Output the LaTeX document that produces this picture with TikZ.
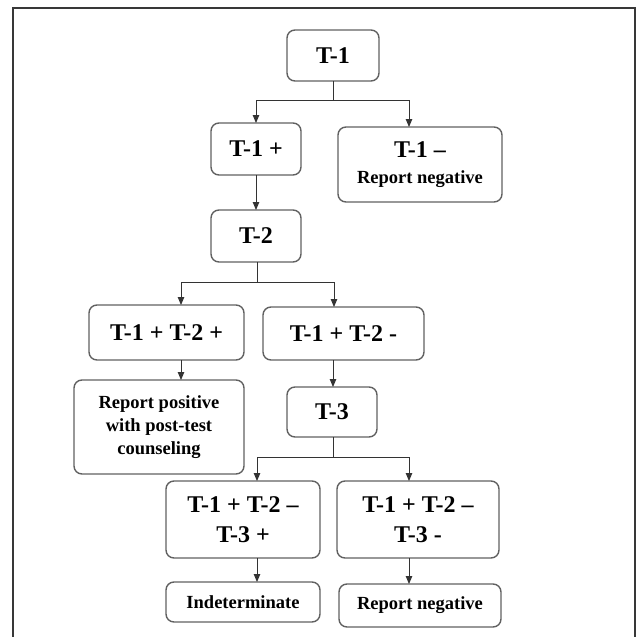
\documentclass[tikz,border=0pt]{standalone}
\usepackage{fontspec}
\setmainfont{Liberation Serif}
\usepackage{tikz}
\usetikzlibrary{arrows.meta,positioning}
\tikzset{
    box color/.style={black!62},
    line color/.style={black!80},
    frame/.style={line width=1.8pt,black!78},
    box/.style={draw,box color,line width=1.4pt,rounded corners=8pt,text=black,align=center,inner sep=0pt,outer sep=0pt},
    big text/.style={font=\fontsize{24}{30}\selectfont\bfseries},
    small text/.style={font=\fontsize{18.5}{23}\selectfont\bfseries},
    test box/.style={box,big text,minimum width=#1},
    test box/.default=90pt,
    line/.style={line color,line width=0.9pt},
    arr/.style={line,-{Triangle[length=8pt,width=6.5pt]}},
}
\tikzstyle{every node}=[font=\bfseries]

\begin{document}
\begin{tikzpicture}[x=1pt,y=-1pt]
        \useasboundingbox (0,0) rectangle (637,637);
        \draw[frame] (13,637) -- (13,8) -- (635,8) -- (635,637);

        \node[test box=92pt,minimum height=51pt] (t1) at (333,55.5) {T-1};
        \node[test box,minimum height=52pt] (t1p) at (256,149) {T-1 +};
        \node[box,font=\fontsize{24}{26}\selectfont\bfseries,minimum width=164pt,minimum height=75pt] (t1m) at (420,164.5)
            {T-1 --\\{\fontsize{18.5}{26}\selectfont Report negative}};
        \node[test box,minimum height=52pt] (t2) at (256,236) {T-2};
        \node[test box=155pt,minimum height=55pt] (t12p) at (166.5,332.5) {T-1 + T-2 +};
        \node[test box=161pt,minimum height=53pt] (t12m) at (343.5,333.5) {T-1 + T-2 -};
        \node[box,small text,minimum width=170pt,minimum height=94pt] (rpos) at (159,427)
            {Report positive\\with post-test\\counseling};
        \node[test box,minimum height=50pt] (t3) at (332,412) {T-3};
        \node[test box=154pt,minimum height=77pt] (t123p) at (243,519.5) {T-1 + T-2 --\\T-3 +};
        \node[test box=162pt,minimum height=77pt] (t123m) at (418,519.5) {T-1 + T-2 --\\T-3 -};
        \node[box,small text,minimum width=154pt,minimum height=40pt] (indet) at (243,602) {Indeterminate};
        \node[box,small text,minimum width=162pt,minimum height=43pt] (rneg) at (420,605.5) {Report negative};

        \coordinate (j1) at (333,100);
        \coordinate (j1r) at (409,100);
        \coordinate (j2) at (257,282);
        \coordinate (j2l) at (181,282);
        \coordinate (j2r) at (334,282);
        \coordinate (j3) at (333,457);
        \coordinate (j3l) at (257,457);
        \coordinate (j3r) at (409,457);

        \draw[line] (t1.south) -- (j1);
        \draw[arr] (j1) -| (t1p.north);
        \draw[arr] (j1) -| (t1m.north -| j1r);
        \draw[arr] (t1p) -- (t2);

        \draw[line] (t2.south -| j2) -- (j2);
        \draw[arr] (j2) -| (t12p.north -| j2l);
        \draw[arr] (j2) -| (t12m.north -| j2r);
        \draw[arr] (t12p.south -| j2l) -- (rpos.north -| j2l);
        \draw[arr] (t12m.south -| j3) -- (t3.north -| j3);

        \draw[line] (t3.south -| j3) -- (j3);
        \draw[arr] (j3) -| (t123p.north -| j3l);
        \draw[arr] (j3) -| (t123m.north -| j3r);
        \draw[arr] (t123p.south -| j3l) -- (indet.north -| j3l);
        \draw[arr] (t123m.south -| j3r) -- (rneg.north -| j3r);
    \end{tikzpicture}
\end{document}
